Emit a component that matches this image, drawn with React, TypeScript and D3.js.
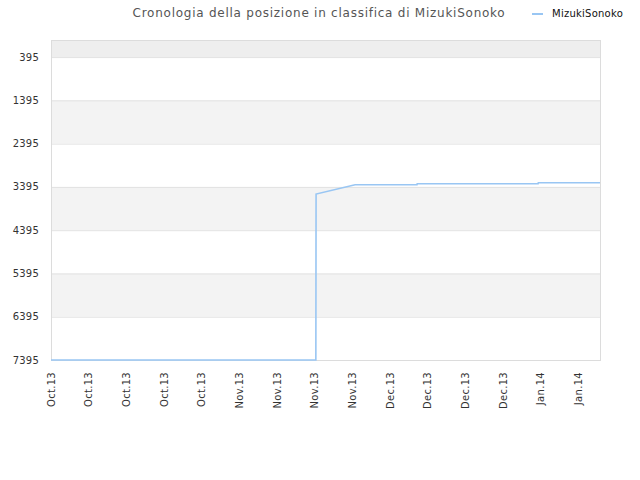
import React, { useRef, useEffect } from 'react';
import * as d3 from 'd3';

type Point = { date: Date; rank: number };

const seriesName = 'MizukiSonoko';
const titleText = 'Cronologia della posizione in classifica di MizukiSonoko';

// rank history (date, position)
const dates: string[] = [
  '2013-10-02T00:00', '2013-11-20T05:00', '2013-11-20T06:00', '2013-11-27T12:00',
  '2013-12-09T00:00', '2013-12-09T01:00', '2013-12-31T12:00', '2013-12-31T13:00',
  '2014-01-12T00:00',
];
const ranks: number[] = [7395, 7395, 3560, 3345, 3345, 3322, 3322, 3299, 3299];

const yTicks: number[] = [395, 1395, 2395, 3395, 4395, 5395, 6395, 7395];
const xTickDates: string[] = [
  '2013-10-02', '2013-10-09', '2013-10-16', '2013-10-23', '2013-10-30',
  '2013-11-06', '2013-11-13', '2013-11-20', '2013-11-27',
  '2013-12-04', '2013-12-11', '2013-12-18', '2013-12-25',
  '2014-01-01', '2014-01-08',
];
const xTickLabels: string[] = [
  'Oct.13', 'Oct.13', 'Oct.13', 'Oct.13', 'Oct.13',
  'Nov.13', 'Nov.13', 'Nov.13', 'Nov.13',
  'Dec.13', 'Dec.13', 'Dec.13', 'Dec.13',
  'Jan.14', 'Jan.14',
];

const parse = (s: string) => new Date(s.length > 10 ? s : s + 'T00:00');

const RankChart: React.FC = () => {
  const svgRef = useRef<SVGSVGElement | null>(null);

  useEffect(() => {
    if (!svgRef.current) return;
    const svg = d3.select(svgRef.current);
    svg.selectAll('*').remove();

    const width = 640;
    const margin = { top: 40, right: 40, bottom: 120, left: 51 };
    const height = 480;
    const font = 'DejaVu Sans, sans-serif';

    const data: Point[] = dates.map((d, i) => ({ date: parse(d), rank: ranks[i] }));

    const x = d3.scaleTime()
      .domain([parse('2013-10-02'), parse('2014-01-12')])
      .range([margin.left, width - margin.right]);

    const y = d3.scaleLinear()
      .domain([0, 7395])
      .range([margin.top, height - margin.bottom]);

    // Alternating bands
    const bandEdges = [0, ...yTicks];
    const bands = d3.pairs(bandEdges);
    svg.append('g')
      .selectAll('rect')
      .data(bands)
      .join('rect')
      .attr('x', x.range()[0])
      .attr('width', x.range()[1] - x.range()[0])
      .attr('y', d => y(d[0]))
      .attr('height', d => y(d[1]) - y(d[0]))
      .attr('fill', (d, i) => (i === 0 ? '#eeeeee' : i % 2 === 0 ? '#f3f3f3' : '#ffffff'));

    // Grid lines
    svg.append('g')
      .selectAll('line')
      .data(yTicks)
      .join('line')
      .attr('x1', x.range()[0])
      .attr('x2', x.range()[1])
      .attr('y1', d => y(d) + 0.5)
      .attr('y2', d => y(d) + 0.5)
      .attr('stroke', '#e2e2e2');

    // Frame
    svg.append('rect')
      .attr('x', x.range()[0] + 0.5)
      .attr('y', y.range()[0] + 0.5)
      .attr('width', x.range()[1] - x.range()[0])
      .attr('height', y.range()[1] - y.range()[0])
      .attr('fill', 'none')
      .attr('stroke', '#dcdcdc');

    // Y labels
    svg.append('g')
      .selectAll('text')
      .data(yTicks)
      .join('text')
      .attr('x', margin.left - 12)
      .attr('y', d => y(d))
      .attr('dy', '0.35em')
      .attr('text-anchor', 'end')
      .attr('font-family', font)
      .attr('font-size', 10)
      .attr('letter-spacing', 0.2)
      .attr('fill', '#333')
      .text(d => String(d));

    // X labels
    svg.append('g')
      .selectAll('text')
      .data(xTickDates)
      .join('text')
      .attr('transform', d => `translate(${x(parse(d))},${y.range()[1] + 12}) rotate(-90)`)
      .attr('dy', '0.35em')
      .attr('text-anchor', 'end')
      .attr('font-family', font)
      .attr('font-size', 10)
      .attr('letter-spacing', 0.3)
      .attr('fill', '#333')
      .text((d, i) => xTickLabels[i]);

    // Line
    const line = d3.line<Point>()
      .x(d => x(d.date))
      .y(d => y(d.rank));

    svg.append('path')
      .datum(data)
      .attr('fill', 'none')
      .attr('stroke', '#99c6f3')
      .attr('stroke-width', 1.6)
      .attr('d', line);

    // Title
    svg.append('text')
      .attr('x', 319)
      .attr('y', 17)
      .attr('text-anchor', 'middle')
      .attr('font-family', font)
      .attr('font-size', 12)
      .attr('letter-spacing', 0.75)
      .attr('fill', '#555')
      .text(titleText);

    // Legend
    svg.append('line')
      .attr('x1', 532)
      .attr('x2', 543)
      .attr('y1', 14)
      .attr('y2', 14)
      .attr('stroke', '#99c6f3')
      .attr('stroke-width', 2);

    svg.append('text')
      .attr('x', 552)
      .attr('y', 17)
      .attr('font-family', font)
      .attr('font-size', 10)
      .attr('letter-spacing', 0.25)
      .attr('fill', '#111')
      .text(seriesName);
  }, []);

  return (
    <svg
      ref={svgRef}
      width={640}
      height={480}
      style={{ position: 'absolute', left: 0, top: 0, background: '#fff' }}
    ></svg>
  );
};

export default function App() {
  return <RankChart />;
}
